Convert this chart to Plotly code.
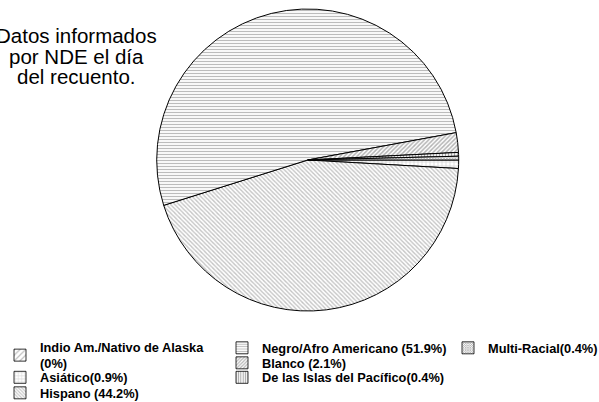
import plotly.graph_objects as go

# Data (pie order, clockwise)
labels = ["Indio Am./Nativo de Alaska<br>(0%)", "Asiático(0.9%)", "Hispano (44.2%)",
          "Negro/Afro Americano (51.9%)", "Blanco (2.1%)", "De las Islas del Pacífico(0.4%)",
          "Multi-Racial(0.4%)"]
values = [0.0, 0.9, 44.2, 51.9, 2.1, 0.4, 0.4]
title_lines = ["Datos informados", "por NDE el día", "del recuento."]

# styling
shapes = ["/", "+", "\\", "-", "/", "|", "x"]
fgcolors = ["#808080", "#a0a0a0", "#8a8a8a", "#7a7a7a", "#6a6a6a", "#505050", "#404040"]
sizes = [5, 4, 3, 3, 3, 3, 2]
solidity = [0.3, 0.3, 0.45, 0.4, 0.5, 0.45, 0.55]

W, H = 599, 402
# pixel positions (legend text left edge, legend item vertical centre)
leg_x = [40, 40, 40, 262, 262, 262, 488]
leg_y = [355.5, 377.5, 393, 348, 363, 377.5, 348]
leg_fs = 12.8
cx, cy, r = 307.7, 160, 151

fig = go.Figure()
fig.add_trace(go.Pie(
    labels=labels, values=values, sort=False, direction="clockwise", rotation=90,
    textinfo="none", hoverinfo="label", showlegend=False,
    domain=dict(x=[(cx - r) / W, (cx + r) / W],
                y=[1 - (cy + r) / H, 1 - (cy - r) / H]),
    marker=dict(colors=["white"] * len(labels),
                line=dict(color="black", width=1),
                pattern=dict(shape=shapes, fgcolor=fgcolors, bgcolor="white",
                             size=sizes, solidity=solidity, fillmode="overlay")),
))

layout_legends = {}
for i, lab in enumerate(labels):
    key = "legend" if i == 0 else f"legend{i + 1}"
    fig.add_trace(go.Bar(
        x=[None], y=[None], name=lab, legend=key, showlegend=True,
        marker=dict(color="white", line=dict(color="black", width=0.8),
                    pattern=dict(shape=shapes[i], fgcolor=fgcolors[i], bgcolor="white",
                                 size=sizes[i], solidity=solidity[i], fillmode="overlay")),
    ))
    layout_legends[key] = dict(
        x=(leg_x[i] - 40) / W, y=1 - leg_y[i] / H,
        xanchor="left", yanchor="middle", orientation="v", itemwidth=30,
        font=dict(family="Liberation Sans, Arial, sans-serif", size=leg_fs,
                  color="black", weight="bold"),
        bgcolor="rgba(0,0,0,0)", borderwidth=0,
        itemclick=False, itemdoubleclick=False)

title_y = [35, 56, 77]
annotations = [dict(text=t, x=76 / W, y=1 - yy / H, xref="paper", yref="paper",
                    xanchor="center", yanchor="middle", showarrow=False,
                    font=dict(family="Liberation Sans, Arial, sans-serif", size=20.5, color="black"))
               for t, yy in zip(title_lines, title_y)]

fig.update_layout(
    width=W, height=H, margin=dict(l=0, r=0, t=0, b=0, autoexpand=False),
    paper_bgcolor="white", plot_bgcolor="white",
    xaxis=dict(visible=False), yaxis=dict(visible=False),
    annotations=annotations,
    **layout_legends,
)

fig.write_html("out.html", config={"displayModeBar": False},
               post_script="document.body.style.margin='0px';document.body.style.overflow='hidden';")
